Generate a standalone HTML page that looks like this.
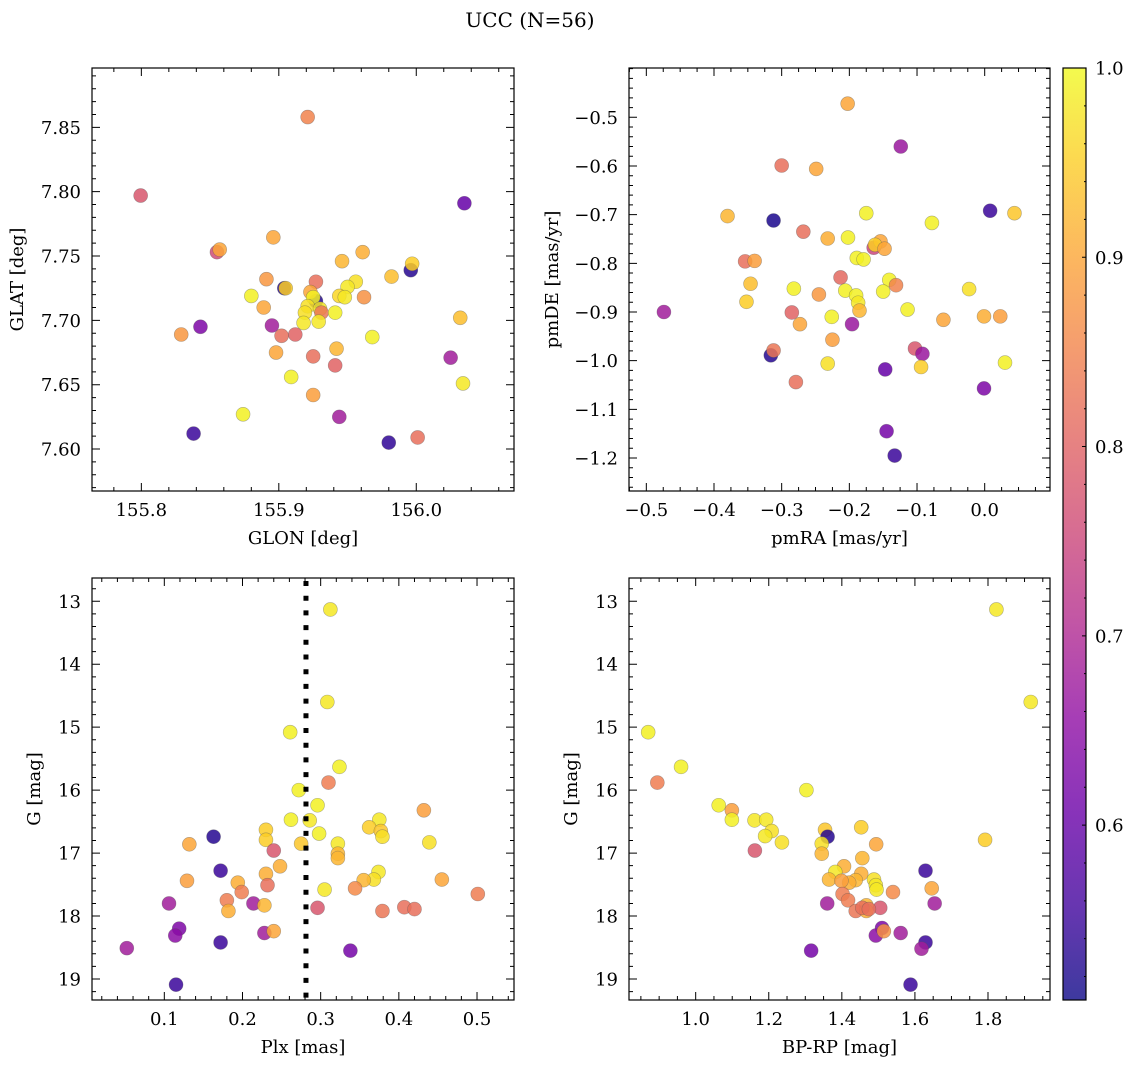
<!DOCTYPE html>
<html>
<head>
<meta charset="utf-8">
<style>
  html,body{margin:0;padding:0;background:#fff;}
  svg{display:block;font-family:"DejaVu Serif","Liberation Serif",serif;}
</style>
</head>
<body>
<svg id="chart" width="1136" height="1068" viewBox="0 0 1136 1068" xmlns="http://www.w3.org/2000/svg">
  <defs>
    <linearGradient id="plasma" x1="0" y1="1" x2="0" y2="0">
      <stop offset="0" stop-color="#0d0887"/>
      <stop offset="0.1" stop-color="#41049d"/>
      <stop offset="0.2" stop-color="#6a00a8"/>
      <stop offset="0.3" stop-color="#8f0da4"/>
      <stop offset="0.4" stop-color="#b12a90"/>
      <stop offset="0.5" stop-color="#cc4778"/>
      <stop offset="0.6" stop-color="#e16462"/>
      <stop offset="0.7" stop-color="#f2844b"/>
      <stop offset="0.8" stop-color="#fca636"/>
      <stop offset="0.9" stop-color="#fcce25"/>
      <stop offset="1" stop-color="#f0f921"/>
    </linearGradient>
  </defs>
  <text x="530" y="27" font-size="20" text-anchor="middle">UCC (N=56)</text>
</svg>
<script>
// ---- data: panel 1 (GLON / GLAT) ----
const p1Lon = [155.927,155.921,155.7995,156.035,155.896,155.855,155.857,155.961,155.946,155.996,155.997,155.982,155.891,155.927,155.904,155.905,155.956,155.950,155.923,155.880,155.944,155.948,155.962,155.925,155.889,155.921,155.930,155.931,155.919,155.941,156.032,155.918,155.929,155.843,155.895,155.829,155.902,155.912,155.968,155.898,155.942,155.925,155.941,156.025,155.909,156.034,155.925,155.874,155.944,155.838,155.980,156.001];
const p1Lat = [7.715,7.858,7.797,7.791,7.7645,7.753,7.755,7.753,7.746,7.739,7.744,7.734,7.732,7.730,7.725,7.725,7.730,7.726,7.722,7.719,7.719,7.718,7.718,7.718,7.710,7.711,7.709,7.706,7.706,7.706,7.702,7.698,7.699,7.695,7.696,7.689,7.688,7.689,7.687,7.675,7.678,7.672,7.665,7.671,7.656,7.651,7.642,7.627,7.625,7.612,7.605,7.609];
const p1C = [0.53,0.85,0.78,0.6,0.9,0.76,0.9,0.91,0.92,0.53,0.95,0.93,0.88,0.82,0.53,0.95,0.97,0.98,0.9,0.99,0.96,0.98,0.87,0.99,0.9,0.97,0.98,0.83,0.97,0.99,0.93,0.98,0.98,0.63,0.68,0.88,0.82,0.8,0.99,0.9,0.92,0.82,0.8,0.68,0.99,0.98,0.89,0.99,0.68,0.55,0.54,0.82];
// ---- data: panel 2 (pmRA / pmDE) ----
const p2RA = [-0.2025,-0.124,-0.300,-0.249,-0.380,-0.312,-0.175,0.008,0.044,-0.078,-0.268,-0.232,-0.202,-0.164,-0.154,-0.162,-0.148,-0.189,-0.179,-0.354,-0.340,-0.213,-0.346,-0.141,-0.131,-0.282,-0.206,-0.245,-0.190,-0.150,-0.023,-0.352,-0.187,-0.185,-0.114,-0.474,-0.285,-0.061,-0.001,0.023,-0.226,-0.273,-0.196,-0.225,-0.316,-0.312,-0.103,-0.092,-0.232,-0.094,0.030,-0.147,-0.279,-0.001,-0.145,-0.133];
const p2DE = [-0.472,-0.560,-0.599,-0.606,-0.703,-0.712,-0.697,-0.692,-0.697,-0.717,-0.735,-0.749,-0.747,-0.768,-0.755,-0.762,-0.770,-0.789,-0.792,-0.796,-0.795,-0.829,-0.842,-0.834,-0.845,-0.852,-0.856,-0.864,-0.866,-0.858,-0.853,-0.879,-0.881,-0.897,-0.895,-0.900,-0.901,-0.916,-0.909,-0.909,-0.910,-0.925,-0.925,-0.957,-0.989,-0.979,-0.975,-0.986,-1.006,-1.013,-1.004,-1.018,-1.044,-1.057,-1.145,-1.195];
const p2C = [0.9,0.67,0.82,0.9,0.92,0.52,0.99,0.55,0.94,0.99,0.82,0.91,0.99,0.75,0.9,0.95,0.9,0.99,0.99,0.82,0.89,0.81,0.93,0.99,0.85,0.99,0.99,0.88,0.99,0.99,0.97,0.95,0.98,0.92,0.99,0.68,0.8,0.9,0.91,0.89,0.99,0.9,0.67,0.89,0.53,0.83,0.78,0.67,0.97,0.95,0.99,0.6,0.82,0.63,0.62,0.55];
// ---- data: panel 3 (Plx / G) ----
const p3Plx = [0.3124,0.3085,0.261,0.324,0.310,0.272,0.296,0.432,0.262,0.286,0.375,0.362,0.377,0.379,0.230,0.230,0.298,0.163,0.439,0.132,0.275,0.322,0.322,0.322,0.240,0.248,0.172,0.230,0.374,0.368,0.355,0.455,0.129,0.194,0.232,0.344,0.305,0.199,0.501,0.180,0.106,0.214,0.228,0.296,0.407,0.420,0.379,0.182,0.119,0.114,0.228,0.240,0.172,0.338,0.052,0.115];
const p3G = [13.13,14.60,15.08,15.63,15.88,16.00,16.24,16.32,16.47,16.48,16.47,16.59,16.65,16.74,16.63,16.79,16.69,16.74,16.83,16.86,16.85,16.85,17.01,17.08,16.96,17.21,17.28,17.33,17.30,17.42,17.43,17.42,17.44,17.47,17.51,17.56,17.58,17.62,17.65,17.75,17.80,17.80,17.83,17.87,17.86,17.89,17.92,17.92,18.20,18.31,18.27,18.24,18.42,18.55,18.51,19.09];
const p3C = [0.98,0.98,0.99,0.99,0.84,0.99,0.99,0.89,0.99,0.98,0.98,0.95,0.94,0.97,0.95,0.95,0.99,0.53,0.97,0.9,0.94,0.98,0.92,0.92,0.78,0.91,0.55,0.91,0.98,0.97,0.92,0.9,0.89,0.91,0.82,0.86,0.98,0.84,0.84,0.84,0.68,0.68,0.92,0.78,0.82,0.82,0.83,0.91,0.63,0.65,0.68,0.9,0.55,0.62,0.68,0.55];
const plxCut = [0.2812];
// ---- data: panel 4 (BP-RP / G) ----
const p4BR = [1.823,1.917,0.870,0.960,0.895,1.303,1.063,1.099,1.099,1.161,1.193,1.453,1.354,1.208,1.190,1.361,1.236,1.345,1.792,1.494,1.162,1.345,1.456,1.406,1.629,1.382,1.453,1.365,1.488,1.438,1.420,1.493,1.399,1.646,1.495,1.540,1.402,1.417,1.360,1.654,1.467,1.505,1.438,1.467,1.510,1.493,1.561,1.515,1.629,1.316,1.618,1.588,1.456,1.474];
const p4G = [13.13,14.60,15.08,15.63,15.88,16.00,16.24,16.32,16.47,16.48,16.47,16.59,16.63,16.65,16.73,16.74,16.83,16.85,16.79,16.86,16.96,17.01,17.08,17.21,17.28,17.30,17.33,17.42,17.42,17.43,17.47,17.51,17.44,17.56,17.58,17.62,17.65,17.75,17.80,17.80,17.83,17.87,17.92,17.92,18.19,18.31,18.27,18.24,18.42,18.55,18.52,19.09,17.87,17.89];
const p4C = [0.98,0.98,0.99,0.99,0.84,0.99,0.99,0.89,0.99,0.98,0.98,0.95,0.94,0.97,0.98,0.53,0.97,0.97,0.95,0.9,0.78,0.92,0.92,0.91,0.55,0.98,0.91,0.92,0.97,0.92,0.91,0.98,0.89,0.9,0.98,0.86,0.84,0.84,0.68,0.68,0.92,0.78,0.83,0.91,0.63,0.65,0.68,0.87,0.55,0.62,0.68,0.55,0.82,0.82];
// ---- tick labels ----
const p1XTicks = [155.8,155.9,156.0];
const p1XLabels = ["155.8","155.9","156.0"];
const p1YTicks = [7.60,7.65,7.70,7.75,7.80,7.85];
const p1YLabels = ["7.60","7.65","7.70","7.75","7.80","7.85"];
const p2XTicks = [-0.5,-0.4,-0.3,-0.2,-0.1,0.0];
const p2XLabels = ["\u22120.5","\u22120.4","\u22120.3","\u22120.2","\u22120.1","0.0"];
const p2YTicks = [-1.2,-1.1,-1.0,-0.9,-0.8,-0.7,-0.6,-0.5];
const p2YLabels = ["\u22121.2","\u22121.1","\u22121.0","\u22120.9","\u22120.8","\u22120.7","\u22120.6","\u22120.5"];
const p3XTicks = [0.1,0.2,0.3,0.4,0.5];
const p3XLabels = ["0.1","0.2","0.3","0.4","0.5"];
const gTicks = [13,14,15,16,17,18,19];
const gLabels = ["13","14","15","16","17","18","19"];
const p4XTicks = [1.0,1.2,1.4,1.6,1.8];
const p4XLabels = ["1.0","1.2","1.4","1.6","1.8"];
const cbTicks = [0.6,0.7,0.8,0.9,1.0];
const cbLabels = ["0.6","0.7","0.8","0.9","1.0"];
const cMin = 0.5076, cMax = 1.0;

const NS = "http://www.w3.org/2000/svg";
const svg = document.getElementById("chart");
const FS = 18;
function mk(tag, attrs, parent){
  const e = document.createElementNS(NS, tag);
  for (const k in attrs) e.setAttribute(k, attrs[k]);
  (parent||svg).appendChild(e);
  return e;
}
const stops = [[13,8,135],[65,4,157],[106,0,168],[143,13,164],[177,42,144],[204,71,120],[225,100,98],[242,132,75],[252,166,54],[252,206,37],[240,249,33]];
function plasma(v){
  let t = (v - cMin)/(cMax - cMin);
  t = Math.max(0, Math.min(1, t));
  const s = t*10, i = Math.min(9, Math.floor(s)), f = s - i;
  const a = stops[i], b = stops[i+1];
  return "rgb(" + [0,1,2].map(k => Math.round(a[k] + (b[k]-a[k])*f)).join(",") + ")";
}
function linear(d0, d1, r0, r1){ return v => r0 + (v - d0)/(d1 - d0)*(r1 - r0); }

function drawPanel(cfg){
  const g = mk("g", {});
  
  
  const {x0, y0, x1, y1} = cfg.box;
  const sx = linear(cfg.xd[0], cfg.xd[1], x0, x1);
  const sy = linear(cfg.yd[0], cfg.yd[1], y1, y0);
  const pts = mk("g", {}, g);
  
  
  for (let i = 0; i < cfg.xs.length; i++){
    const c = mk("circle", {cx: sx(cfg.xs[i]).toFixed(2), cy: sy(cfg.ys[i]).toFixed(2), r: 7,
      fill: plasma(cfg.cs[i]), "fill-opacity": 0.85, stroke: "#555", "stroke-opacity": 0.45, "stroke-width": 0.6}, pts);
    
    
  }
  if (cfg.vline){
    const vx = sx(cfg.vline[0]);
    const l = mk("line", {x1: vx, x2: vx, y1: y0 + 3, y2: y1, stroke: "#000", "stroke-width": 5, "stroke-dasharray": "5 9.7"}, g);
    
    
  }
  const fr = mk("rect", {x: x0, y: y0, width: x1 - x0, height: y1 - y0, fill: "none", stroke: "#000", "stroke-width": 1.2}, g);
  
  
  let d = "";
  const lo = Math.min(cfg.xd[0], cfg.xd[1]), hi = Math.max(cfg.xd[0], cfg.xd[1]);
  for (let k = Math.ceil(lo/cfg.xMinor - 1e-6); k*cfg.xMinor <= hi + 1e-9; k++){
    const v = k*cfg.xMinor, px = sx(v);
    const major = cfg.xt.some(t => Math.abs(t - v) < cfg.xMinor/10);
    const L = major ? 8 : 4;
    d += `M${px},${y1}v${-L}M${px},${y0}v${L}`;
  }
  const ylo = Math.min(cfg.yd[0], cfg.yd[1]), yhi = Math.max(cfg.yd[0], cfg.yd[1]);
  for (let k = Math.ceil(ylo/cfg.yMinor - 1e-6); k*cfg.yMinor <= yhi + 1e-9; k++){
    const v = k*cfg.yMinor, py = sy(v);
    const major = cfg.yt.some(t => Math.abs(t - v) < cfg.yMinor/10);
    const L = major ? 8 : 4;
    d += `M${x0},${py}h${L}M${x1},${py}h${-L}`;
  }
  const tk = mk("path", {d: d, stroke: "#000", "stroke-width": 1, fill: "none"}, g);
  
  
  cfg.xt.forEach((t, i) => {
    const tx = mk("text", {x: sx(t), y: y1 + 25, "font-size": FS, "text-anchor": "middle"}, g);
    tx.textContent = cfg.xl[i];
    
    
  });
  cfg.yt.forEach((t, i) => {
    const ty = mk("text", {x: x0 - 11, y: sy(t) + 6.5, "font-size": FS, "text-anchor": "end"}, g);
    ty.textContent = cfg.yl[i];
    
    
  });
  const xt = mk("text", {x: (x0 + x1)/2, y: y1 + 53, "font-size": FS, "text-anchor": "middle"}, g);
  xt.textContent = cfg.xTitle;
  
  
  const yx = cfg.yTitleX, yy = (y0 + y1)/2;
  const yt = mk("text", {x: yx, y: yy, "font-size": FS, "text-anchor": "middle", transform: `rotate(-90 ${yx} ${yy})`}, g);
  yt.textContent = cfg.yTitle;
  
  
}

drawPanel({name: "glon-glat-panel", box: {x0: 92, y0: 68, x1: 514, y1: 491},
  xd: [155.7641, 156.0711], yd: [7.5674, 7.8961], xs: p1Lon, ys: p1Lat, cs: p1C,
  xt: p1XTicks, xl: p1XLabels, yt: p1YTicks, yl: p1YLabels, xMinor: 0.02, yMinor: 0.01,
  xTitle: "GLON [deg]", yTitle: "GLAT [deg]", yTitleX: 23});
drawPanel({name: "pm-panel", box: {x0: 629, y0: 68, x1: 1050, y1: 491},
  xd: [-0.5256, 0.0965], yd: [-1.2678, -0.3987], xs: p2RA, ys: p2DE, cs: p2C,
  xt: p2XTicks, xl: p2XLabels, yt: p2YTicks, yl: p2YLabels, xMinor: 0.025, yMinor: 0.02,
  xTitle: "pmRA [mas/yr]", yTitle: "pmDE [mas/yr]", yTitleX: 558});
drawPanel({name: "plx-g-panel", box: {x0: 92, y0: 578, x1: 514, y1: 1000},
  xd: [0.0075, 0.5473], yd: [19.334, 12.630], xs: p3Plx, ys: p3G, cs: p3C,
  xt: p3XTicks, xl: p3XLabels, yt: gTicks, yl: gLabels, xMinor: 0.02, yMinor: 0.2,
  xTitle: "Plx [mas]", yTitle: "G [mag]", yTitleX: 40, vline: plxCut});
drawPanel({name: "cmd-panel", box: {x0: 629, y0: 578, x1: 1050, y1: 1000},
  xd: [0.8175, 1.9697], yd: [19.334, 12.630], xs: p4BR, ys: p4G, cs: p4C,
  xt: p4XTicks, xl: p4XLabels, yt: gTicks, yl: gLabels, xMinor: 0.05, yMinor: 0.2,
  xTitle: "BP-RP [mag]", yTitle: "G [mag]", yTitleX: 577});

// colorbar
(function(){
  const g = mk("g", {});
  
  
  const x0 = 1063, x1 = 1086, y0 = 68, y1 = 1000;
  const sc = linear(cMin, cMax, y1, y0);
  mk("rect", {x: x0, y: y0, width: x1 - x0, height: y1 - y0, fill: "url(#plasma)", "fill-opacity": 0.8}, g);
  mk("rect", {x: x0, y: y0, width: x1 - x0, height: y1 - y0, fill: "none", stroke: "#000", "stroke-width": 1.2}, g);
  let d = "";
  for (let k = 26; k <= 50; k++){
    const v = k*0.02, py = sc(v);
    if (v < cMin - 1e-9) continue;
    const major = cbTicks.some(t => Math.abs(t - v) < 0.002);
    d += `M${x1},${py}h${major ? -4 : -2}`;
  }
  mk("path", {d: d, stroke: "#000", "stroke-width": 1}, g);
  cbTicks.forEach((t, i) => {
    const tx = mk("text", {x: x1 + 9, y: sc(t) + 6.5, "font-size": FS}, g);
    tx.textContent = cbLabels[i];
    
    
  });
})();
</script>
</body>
</html>
